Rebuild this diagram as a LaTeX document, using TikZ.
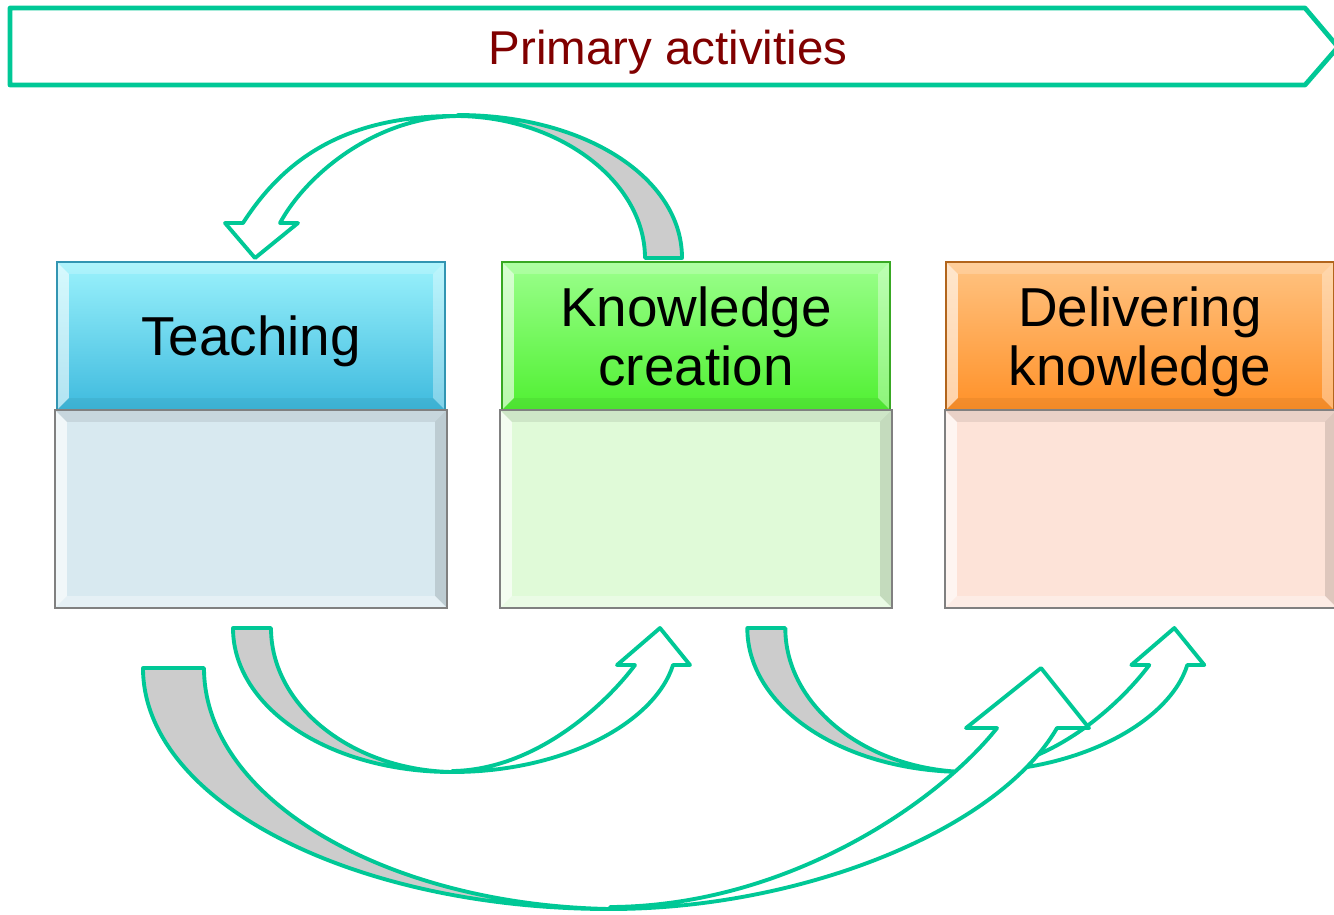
\documentclass[tikz,border=0pt]{standalone}
\usepackage{fontspec}
\setmainfont{Liberation Sans}
\usetikzlibrary{calc}
\definecolor{bandgreen}{RGB}{0,200,150}
\definecolor{bandgray}{RGB}{204,204,204}
\definecolor{titlered}{RGB}{128,0,0}
\definecolor{teachtop}{RGB}{155,242,252}
\definecolor{teachbot}{RGB}{62,186,222}
\definecolor{knowtop}{RGB}{155,255,140}
\definecolor{knowbot}{RGB}{80,240,50}
\definecolor{delivtop}{RGB}{255,195,130}
\definecolor{delivbot}{RGB}{255,145,40}
\definecolor{teachlow}{RGB}{216,233,240}
\definecolor{knowlow}{RGB}{224,250,216}
\definecolor{delivlow}{RGB}{253,227,216}
\def\bw{0.12cm}
\tikzset{
  bevel/.style n args={4}{path picture={
    \coordinate (tl) at (path picture bounding box.north west);
    \coordinate (tr) at (path picture bounding box.north east);
    \coordinate (bl) at (path picture bounding box.south west);
    \coordinate (br) at (path picture bounding box.south east);
    \fill[#1] (tl) -- (tr) -- ($(tr)+(-\bw,-\bw)$) -- ($(tl)+(\bw,-\bw)$) -- cycle;
    \fill[#2] (tl) -- ($(tl)+(\bw,-\bw)$) -- ($(bl)+(\bw,\bw)$) -- (bl) -- cycle;
    \fill[#3] (tr) -- (br) -- ($(br)+(-\bw,\bw)$) -- ($(tr)+(-\bw,-\bw)$) -- cycle;
    \fill[#4] (bl) -- (br) -- ($(br)+(-\bw,\bw)$) -- ($(bl)+(\bw,\bw)$) -- cycle;
  }},
  headbox/.style={minimum width=3.88cm, minimum height=1.48cm, inner sep=0pt,
    align=center, font=\fontsize{15.6}{16.6}\selectfont, text depth=0pt, line width=0.4pt,
    bevel={white,opacity=.2}{white,opacity=.6}{white,opacity=.35}{black,opacity=.05}},
  lowbox/.style={minimum width=3.92cm, minimum height=1.98cm, inner sep=0pt,
    draw=black!50, line width=0.5pt,
    bevel={black,opacity=.08}{white,opacity=.65}{black,opacity=.12}{white,opacity=.35}},
  band/.style={draw=bandgreen, line width=1.1pt, line join=round}
}
\begin{document}
\begin{tikzpicture}[x=0.01cm, y=-0.01cm]
\useasboundingbox (0,0) rectangle (1334,914);

% banner
\filldraw[band, line width=1.35pt, fill=white] (10,8) -- (1305,8) -- (1338,47) -- (1305,85) -- (10,85) -- cycle;
\node[text=titlered, font=\fontsize{13.5}{16}\selectfont, text depth=0pt] (title) at (668,47) {Primary activities};

% boxes
\node[headbox, top color=teachtop, bottom color=teachbot, draw=teachbot!80!black] (teach) at (251,336) {Teaching};
\node[lowbox, fill=teachlow] (teachbody) at (251,509) {};
\node[headbox, top color=knowtop, bottom color=knowbot, draw=knowbot!70!black] (know) at (696,336) {Knowledge\\creation};
\node[lowbox, fill=knowlow] (knowbody) at (696,509) {};
\node[headbox, top color=delivtop, bottom color=delivbot, draw=delivbot!70!black] (deliv) at (1140,336) {Delivering\\knowledge};
\node[lowbox, fill=delivlow] (delivbody) at (1141,509) {};

% knowledge creation -> teaching
\filldraw[band, fill=bandgray] (458,115) .. controls (585,115) and (682,178) .. (682,258)
  -- (645,258) .. controls (645,182) and (560,117) .. (458,116) -- cycle;
\filldraw[band, fill=white] (280,223) .. controls (306,175) and (375,117) .. (458,116)
  .. controls (340,115) and (281,164) .. (243,223) -- (225,223) -- (255,258) -- (298,223) -- cycle;

% teaching -> knowledge creation, knowledge creation -> delivering
\foreach \dx in {0,5.14}{
  \begin{scope}[xshift=\dx cm]
    \filldraw[band, fill=bandgray] (233,628) .. controls (233,708) and (330,772) .. (452,772)
      .. controls (352,770) and (271,706) .. (271,628) -- cycle;
    \filldraw[band, fill=white] (452,772) .. controls (565,772) and (655,722) .. (673,665)
      -- (690,665) -- (660,628) -- (617,665) -- (635,665)
      .. controls (605,705) and (535,770) .. (452,771) -- cycle;
  \end{scope}
}

% teaching -> delivering
\filldraw[band, fill=bandgray] (143,668) .. controls (143,801) and (352,909) .. (610,909)
  .. controls (386,905) and (204,799) .. (204,668) -- cycle;
\filldraw[band, fill=white] (610,909) .. controls (800,909) and (997,831) .. (1057,728)
  -- (1089,728) -- (1041,668) -- (966,728) -- (997,728)
  .. controls (940,800) and (790,906) .. (610,907) -- cycle;
\end{tikzpicture}
\end{document}
